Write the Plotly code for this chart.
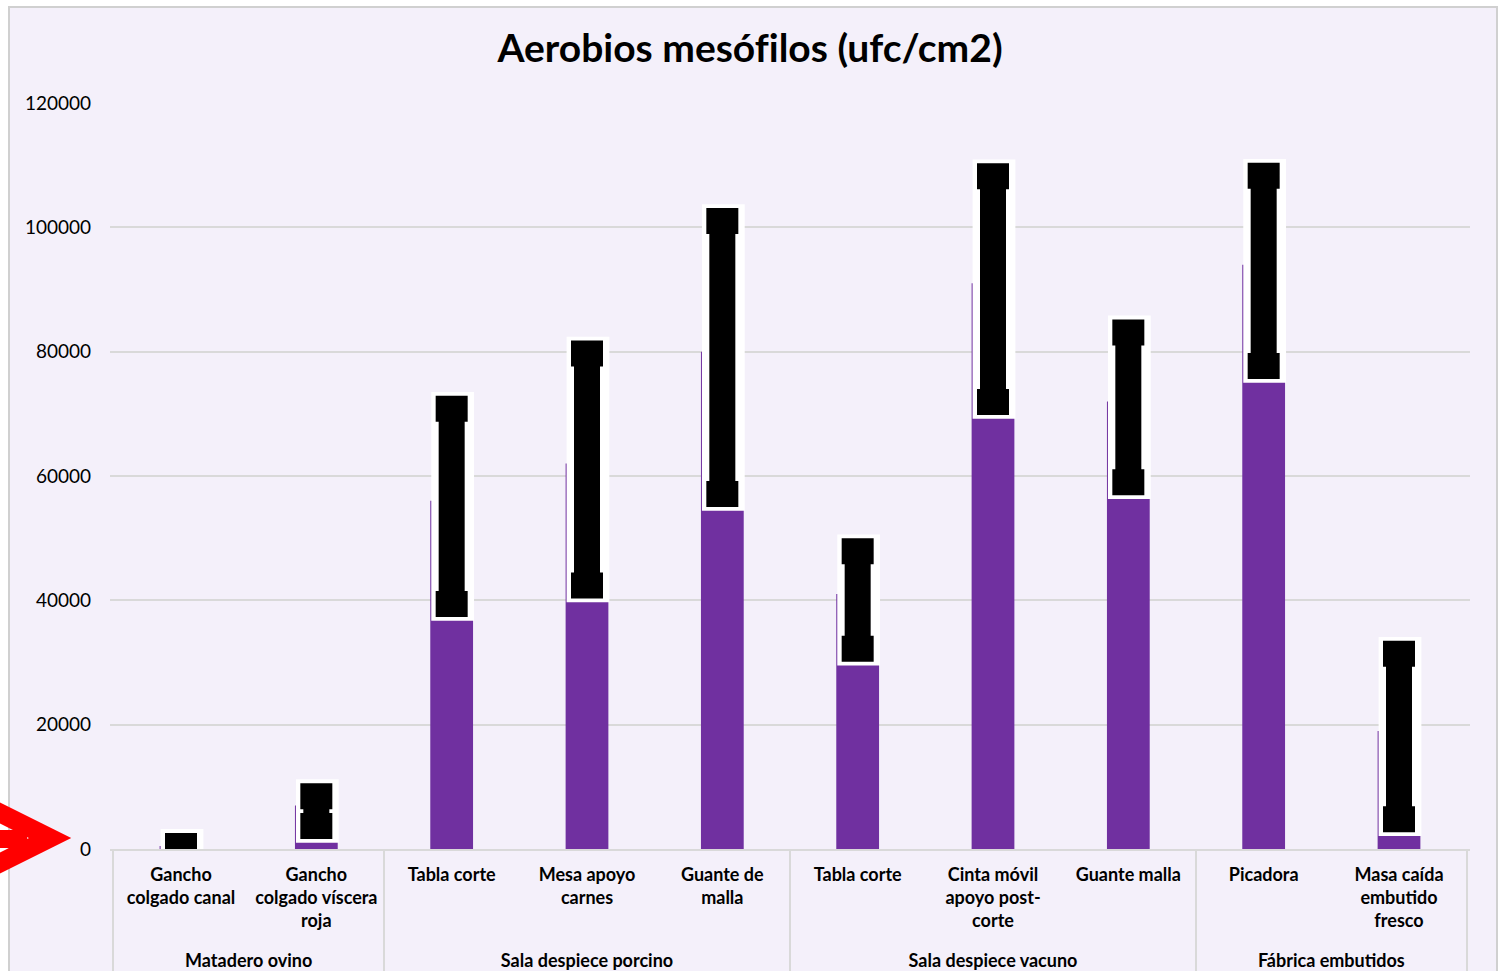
import plotly.graph_objects as go

# ---- data -------------------------------------------------------------
group_names = ["Matadero ovino", "Sala despiece porcino", "Sala despiece vacuno", "Fábrica embutidos"]
group_of_bar = [0, 0, 1, 1, 1, 2, 2, 2, 3, 3]
categories = [
    "Gancho<br>colgado canal",
    "Gancho<br>colgado víscera<br>roja",
    "Tabla corte",
    "Mesa apoyo<br>carnes",
    "Guante de<br>malla",
    "Tabla corte",
    "Cinta móvil<br>apoyo post-<br>corte",
    "Guante malla",
    "Picadora",
    "Masa caída<br>embutido<br>fresco",
]
means = [500, 7000, 56000, 62000, 80000, 41000, 91000, 72000, 94000, 19000]
err_plus = [0, 1500, 14800, 17700, 21000, 6900, 17200, 11100, 14300, 12400]
err_minus = [500, 3300, 16600, 19600, 22900, 8800, 19100, 13000, 16300, 14200]
y_ticks = [0, 20000, 40000, 60000, 80000, 100000, 120000]

# ---- layout constants -------------------------------------------------
W, H = 1500, 971
ML, MR, MT, MB = 110, 30, 103, 122
PW, PH = W - ML - MR, H - MT - MB
Y_MAX = 120000

PURPLE = "#7030A0"
BG = "#F4F0FA"
GRID = "#D9D9D9"
FONT = "Lato"

BAR_W = 0.316
PATCH_PAD = 2700  # white backing around each error bar, in data units


def px(x, y):
    """Convert a pixel position on the page into paper coordinates."""
    return (x - ML) / PW, (H - MB - y) / PH


# outer labels get a blank first line so they sit below the three-line inner labels
groups = ["<br>" + group_names[g] for g in group_of_bar]
x_multi = [groups, categories]

fig = go.Figure()

# columns
fig.add_trace(go.Bar(
    x=x_multi, y=means, width=BAR_W,
    marker=dict(color=PURPLE, line=dict(width=0)),
    hoverinfo="skip", showlegend=False,
))

# white backing behind the error bars
patch_base = [max(m - e - PATCH_PAD, 0) for m, e in zip(means, err_minus)]
patch_top = [m + e + PATCH_PAD for m, e in zip(means, err_plus)]
fig.add_trace(go.Bar(
    x=x_multi, y=[t - b for t, b in zip(patch_top, patch_base)], base=patch_base,
    width=BAR_W, offset=-BAR_W / 2 + 1.0 / 136,
    marker=dict(color="white", line=dict(width=0)),
    hoverinfo="skip", showlegend=False,
))

# error bars
fig.add_trace(go.Scatter(
    x=x_multi, y=means, mode="markers",
    marker=dict(size=1, color="rgba(0,0,0,0)"),
    error_y=dict(type="data", symmetric=False, array=err_plus, arrayminus=err_minus,
                 color="black", thickness=26, width=16),
    hoverinfo="skip", showlegend=False,
))

# chart frame
x0, y0 = px(9, 7)
x1, y1 = px(1497, 990)
shapes = [dict(type="rect", xref="paper", yref="paper", x0=x0, y0=y1, x1=x1, y1=y0,
               fillcolor=BG, line=dict(color="#D0D0D0", width=2), layer="below")]

# red arrow pointing at the zero line
a1 = px(-6, 810)
a2 = px(50, 838)
a3 = px(-6, 866)
shapes.append(dict(type="path", xref="paper", yref="paper",
                   path=f"M {a1[0]},{a1[1]} L {a2[0]},{a2[1]} L {a3[0]},{a3[1]}",
                   line=dict(color="#FF0000", width=19), layer="above"))
s1 = px(-4, 839)
s2 = px(27, 839)
shapes.append(dict(type="line", xref="paper", yref="paper",
                   x0=s1[0], y0=s1[1], x1=s2[0], y1=s2[1],
                   line=dict(color="#FF0000", width=18), layer="above"))

fig.update_layout(
    width=W, height=H,
    margin=dict(l=ML, r=MR, t=MT, b=MB, autoexpand=False),
    paper_bgcolor="white",
    plot_bgcolor="rgba(0,0,0,0)",
    barmode="overlay",
    title=dict(text="Aerobios mesóf\u200cilos (ufc/cm2)", x=0.5, xref="container",
               y=1 - 48 / H, yref="container", xanchor="center", yanchor="middle",
               font=dict(family=FONT, size=39, color="black", weight="bold")),
    shapes=shapes,
    font=dict(family=FONT, color="black"),
)

fig.update_yaxes(
    range=[0, Y_MAX], tickvals=y_ticks, ticktext=[str(v) for v in y_ticks],
    showgrid=True, gridcolor=GRID, gridwidth=2,
    zeroline=False, showline=False,
    ticks="", ticklabelstandoff=18,
    tickfont=dict(family=FONT, size=19, color="black"),
    fixedrange=True,
)
fig.update_xaxes(
    type="multicategory",
    showline=True, linecolor=GRID, linewidth=2,
    showgrid=False, ticks="",
    showdividers=True, dividercolor=GRID, dividerwidth=2,
    ticklabelstandoff=8,
    tickfont=dict(family=FONT, size=18, color="black", weight="bold"),
    automargin=False, fixedrange=True,
)

fig.write_html("out.html")
